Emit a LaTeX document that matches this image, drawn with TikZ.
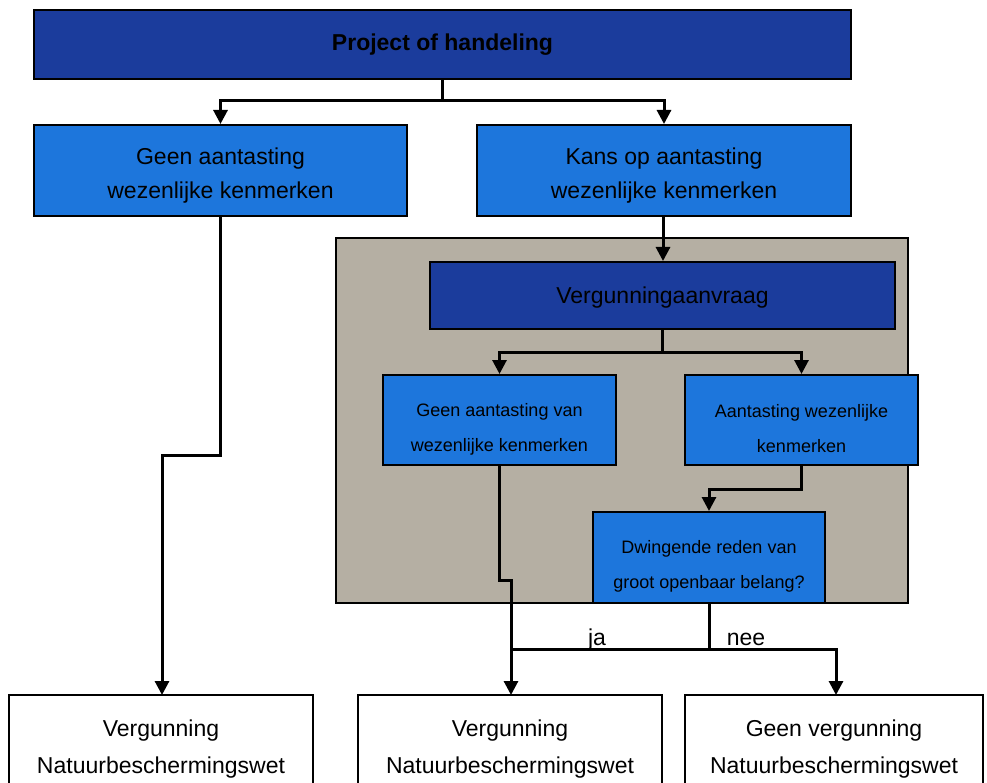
\documentclass[tikz,border=0pt]{standalone}
\usepackage{fontspec}
\setmainfont{Liberation Sans}
\usetikzlibrary{arrows.meta}
\definecolor{darkb}{HTML}{1B3C9C}
\definecolor{midb}{HTML}{1D76DC}
\definecolor{taupe}{HTML}{B5AFA3}
\tikzset{
  box/.style={draw=black, line width=2pt, inner sep=0pt, align=center},
  darkbox/.style={box, fill=darkb},
  midbox/.style={box, fill=midb},
  whitebox/.style={box, fill=white},
  conn/.style={draw=black, line width=3pt},
  arr/.style={conn, -{Triangle[length=14pt,width=14pt]}},
  big/.style={font=\fontsize{23}{34}\selectfont, align=center, inner sep=0pt},
  small/.style={font=\fontsize{18}{35}\selectfont, align=center, inner sep=0pt},
}
\begin{document}
\begin{tikzpicture}[x=1pt,y=-1pt]
\useasboundingbox (0,0) rectangle (987,783);
\clip (0,0) rectangle (987,783);
\fill[white] (0,0) rectangle (987,783);
% gray region
\node[draw=black, line width=2pt, fill=taupe, minimum width=572pt, minimum height=365pt, inner sep=0pt] (grey) at (622,420.5) {};
% boxes
\node[darkbox, minimum width=817pt, minimum height=69pt, font=\fontsize{23}{34}\selectfont\bfseries] (top) at (442.5,44.5) {Project of handeling};
\node[midbox, minimum width=373pt, minimum height=91pt] (geen) at (220.5,170.5) {};
\node[big] (geent) at ([yshift=-5pt]geen.center) {Geen aantasting\\wezenlijke kenmerken};
\node[midbox, minimum width=374pt, minimum height=91pt] (kans) at (664,170.5) {};
\node[big] (kanst) at ([yshift=-5pt]kans.center) {Kans op aantasting\\wezenlijke kenmerken};
\node[darkbox, minimum width=465pt, minimum height=67pt] (aanv) at (662.5,295.5) {};
\node[big] (aanvt) at ([yshift=-2pt]aanv.center) {Vergunningaanvraag};
\node[midbox, minimum width=233pt, minimum height=90pt] (geenv) at (499.5,420) {};
\node[small] (geenvt) at ([yshift=-9pt]geenv.center) {Geen aantasting van\\wezenlijke kenmerken};
\node[midbox, minimum width=233pt, minimum height=90pt] (aant) at (801.5,420) {};
\node[small] (aantt) at ([yshift=-9pt]aant.center) {Aantasting wezenlijke\\kenmerken};
\node[midbox, minimum width=232pt, minimum height=91pt] (dwing) at (709,557.5) {};
\node[small] (dwingt) at ([yshift=-9pt]dwing.center) {Dwingende reden van\\groot openbaar belang?};
\node[whitebox, minimum width=304pt, minimum height=110pt] (v1) at (161,750) {};
\node[whitebox, minimum width=304pt, minimum height=110pt] (v2) at (510,750) {};
\node[whitebox, minimum width=298pt, minimum height=110pt] (v3) at (834,750) {};
\node[big, anchor=base] (t1a) at (161,736) {Vergunning};
\node[big, anchor=base] (t1b) at (161,773) {Natuurbeschermingswet};
\node[big, anchor=base] (t2a) at (510,736) {Vergunning};
\node[big, anchor=base] (t2b) at (510,773) {Natuurbeschermingswet};
\node[big, anchor=base] (t3a) at (834,736) {Geen vergunning};
\node[big, anchor=base] (t3b) at (834,773) {Natuurbeschermingswet};
% connectors
\coordinate (j1) at (442.5,101);
\draw[conn] (top.south) -- (j1);
\draw[arr] (j1) -| (geen.north);
\draw[arr] (j1) -| (kans.north);
\coordinate (k1) at (663,216);
\draw[arr] (k1) -- (k1 |- aanv.north);
\coordinate (j2) at (662.5,352);
\draw[conn] (aanv.south) -- (j2);
\draw[arr] (j2) -| (geenv.north);
\draw[arr] (j2) -| (aant.north);
\draw[arr] (aant.south) -- ++(0,23) -| (dwing.north);
\draw[arr] (geen.south) -- (220.5,455) -- (162,455) -- (162,695);
\draw[arr] (geenv.south) -- (499.5,580) -- (511,580) -- (511,695);
\coordinate (j3) at (709,649);
\draw[conn] (dwing.south) -- (j3);
\draw[conn] (j3) -- (511,649);
\draw[arr] (j3) -- (836,649) -- (836,695);
\node[big, anchor=base] (ja) at (597,645) {ja};
\node[big, anchor=base] (nee) at (746,645) {nee};
\end{tikzpicture}
\end{document}
